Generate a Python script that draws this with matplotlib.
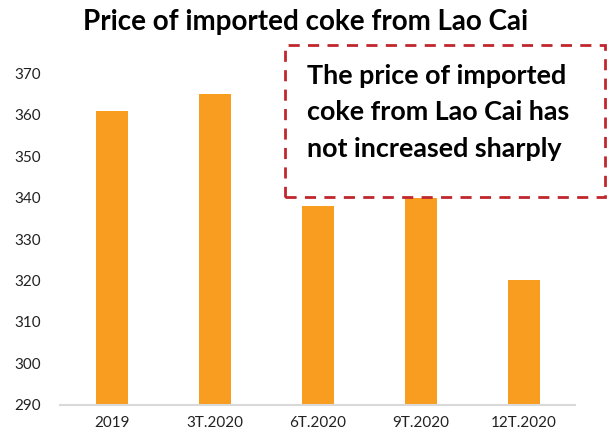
import matplotlib.pyplot as plt
from matplotlib.patches import Rectangle

plt.rcParams['font.family'] = ['Lato', 'DejaVu Sans']

categories = ['2019', '3T.2020', '6T.2020', '9T.2020', '12T.2020']
prices = [361, 365, 338, 340, 320]
yticks = [290, 300, 310, 320, 330, 340, 350, 360, 370]

fig = plt.figure(figsize=(6.08, 4.41), dpi=100)
ax = fig.add_axes([0.099, 0.082, 0.847, 0.752])

x = range(len(categories))
ax.bar(x, prices, width=0.31, color='#F99D20', zorder=2)
ax.set_ylim(290, 370)
ax.set_xlim(-0.5, len(categories) - 0.5)
ax.set_yticks(yticks)
ax.set_xticks(list(x))
ax.set_xticklabels(categories)
ax.tick_params(length=0, labelsize=11, colors='#222222', pad=8)
ax.tick_params(axis='y', pad=14)
for s in ['top', 'right', 'left']:
    ax.spines[s].set_visible(False)
ax.spines['bottom'].set_color('#D9D9D9')
ax.spines['bottom'].set_linewidth(1.5)

fig.text(0.502, 0.95, 'Price of imported coke from Lao Cai', ha='center', va='center',
         fontsize=20, fontweight='bold')

# callout box
box = Rectangle((0.469, 0.553), 0.526, 0.345, transform=fig.transFigure,
                facecolor='white', edgecolor='#C0262E', linestyle=(0, (4, 3)),
                linewidth=2, zorder=5)
fig.patches.append(box)
fig.text(0.505, 0.855, 'The price of imported\ncoke from Lao Cai has\nnot increased sharply',
         ha='left', va='top', fontsize=19.4, fontweight='bold', linespacing=1.62, zorder=6)

plt.savefig('out.png', dpi=100)
